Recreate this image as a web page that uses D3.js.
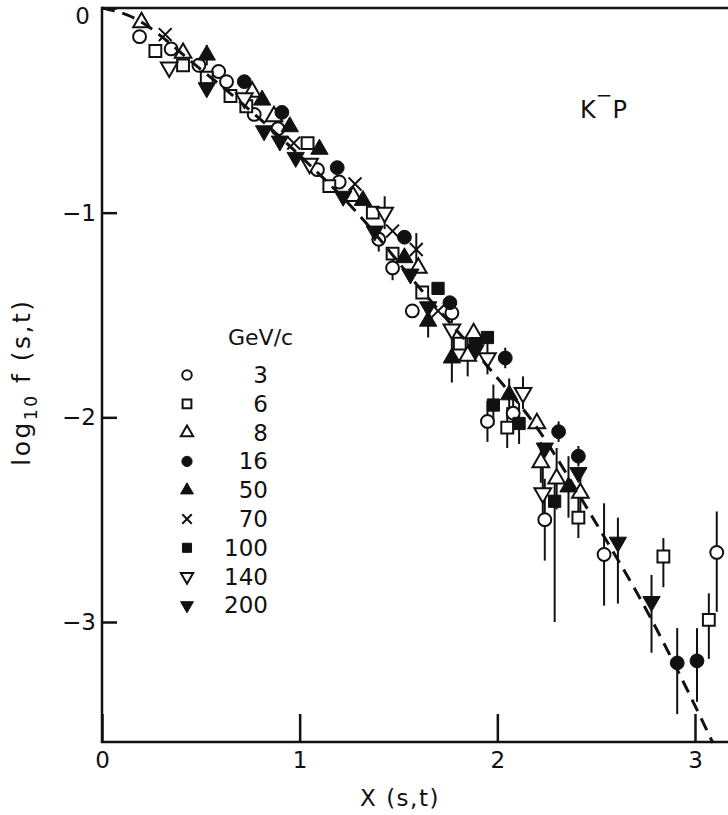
<!DOCTYPE html>
<html lang="en">
<head>
  <meta charset="UTF-8" />
  <title>K-P log10 f(s,t) vs X(s,t)</title>
  <script src="https://cdn.jsdelivr.net/npm/d3@7"></script>
  <style>
    body { margin: 0; background: #fff; }
    svg text { font-family: "DejaVu Sans", sans-serif; fill: #111; }
    .axis text { font-size: 23px; }
    .frame { stroke: #111; stroke-width: 2.5px; fill: none; }
    .errbar { stroke: #111; stroke-width: 2px; }
    .fit { fill: none; stroke: #111; stroke-width: 3px; stroke-dasharray: 13 8; }
  </style>
</head>
<body>
<svg width="728" height="815"></svg>
<script>
// beam momenta, GeV/c
const momenta = ["3", "6", "8", "16", "50", "70", "100", "140", "200"];

// points per momentum: [X(s,t), log10 f, err down, err up]
const p3 = [
  [0.19, -0.14, 0, 0], [0.35, -0.20, 0, 0], [0.49, -0.28, 0, 0], [0.59, -0.31, 0, 0],
  [0.63, -0.36, 0, 0], [0.77, -0.52, 0, 0], [0.89, -0.59, 0, 0], [1.09, -0.79, 0, 0],
  [1.20, -0.85, 0, 0], [1.40, -1.13, 0.06, 0.06], [1.47, -1.27, 0.06, 0.06],
  [1.57, -1.48, 0, 0], [1.77, -1.49, 0.05, 0.05], [1.95, -2.02, 0.10, 0.10],
  [2.08, -1.98, 0.10, 0.10], [2.24, -2.50, 0.20, 0.20], [2.54, -2.67, 0.25, 0.25],
  [3.11, -2.66, 0.29, 0.20]
];
const p6 = [
  [0.27, -0.21, 0, 0], [0.41, -0.28, 0, 0], [0.53, -0.34, 0, 0], [0.65, -0.43, 0, 0],
  [0.73, -0.48, 0, 0], [1.04, -0.66, 0, 0], [1.15, -0.87, 0, 0], [1.37, -1.00, 0, 0],
  [1.47, -1.20, 0, 0], [1.62, -1.39, 0, 0], [1.81, -1.64, 0, 0], [2.05, -2.05, 0.10, 0.10],
  [2.41, -2.49, 0.10, 0.10], [2.84, -2.68, 0.15, 0.09], [3.07, -2.99, 0.19, 0.13]
];
const p8 = [
  [0.20, -0.07, 0, 0], [0.41, -0.22, 0, 0], [0.76, -0.41, 0, 0], [0.87, -0.53, 0, 0],
  [1.27, -0.92, 0, 0], [1.60, -1.27, 0, 0], [1.88, -1.59, 0, 0], [1.85, -1.70, 0.10, 0.10],
  [2.20, -2.03, 0, 0], [2.22, -2.22, 0.10, 0.10], [2.30, -2.30, 0.15, 0.15],
  [2.42, -2.37, 0.10, 0.10]
];
const p16 = [
  [0.72, -0.36, 0, 0], [0.91, -0.51, 0, 0], [1.19, -0.78, 0, 0], [1.53, -1.12, 0, 0],
  [1.76, -1.44, 0, 0], [2.04, -1.71, 0.05, 0.05], [2.31, -2.07, 0.05, 0.05],
  [2.41, -2.19, 0.05, 0.05], [2.91, -3.20, 0.25, 0.17], [3.01, -3.19, 0.20, 0.16]
];
const p50 = [
  [0.53, -0.23, 0.05, 0.05], [0.81, -0.45, 0, 0], [0.95, -0.58, 0, 0], [1.10, -0.69, 0, 0],
  [1.32, -0.94, 0, 0], [1.53, -1.22, 0, 0], [1.65, -1.53, 0.08, 0.08],
  [1.77, -1.71, 0.12, 0.12], [2.06, -1.89, 0.08, 0.08], [2.36, -2.34, 0.15, 0.15]
];
const p70 = [
  [0.32, -0.13, 0, 0], [0.97, -0.66, 0, 0], [1.28, -0.86, 0, 0], [1.47, -1.09, 0, 0],
  [1.59, -1.18, 0.08, 0.08], [1.70, -1.48, 0, 0]
];
const p100 = [
  [1.70, -1.37, 0, 0], [1.89, -1.64, 0, 0], [1.95, -1.61, 0, 0], [1.98, -1.94, 0.10, 0.10],
  [2.11, -2.03, 0.10, 0.10], [2.29, -2.41, 0.59, 0.10]
];
const p140 = [
  [0.34, -0.29, 0, 0], [0.72, -0.44, 0, 0], [1.05, -0.76, 0, 0], [1.43, -1.00, 0.08, 0.08],
  [1.77, -1.57, 0, 0], [1.95, -1.71, 0.08, 0.08], [2.13, -1.88, 0.08, 0.08],
  [2.23, -2.37, 0.15, 0.15]
];
const p200 = [
  [0.53, -0.39, 0, 0], [0.82, -0.60, 0, 0], [0.90, -0.65, 0, 0], [0.98, -0.73, 0, 0],
  [1.22, -0.92, 0, 0], [1.38, -1.09, 0, 0], [1.56, -1.30, 0, 0], [1.65, -1.46, 0, 0],
  [1.89, -1.67, 0, 0], [2.24, -2.15, 0, 0], [2.41, -2.27, 0, 0],
  [2.61, -2.61, 0.30, 0.12], [2.78, -2.90, 0.25, 0.13]
];

// dashed curve
const fitCurve = [
  [0, 0], [0.13, -0.035], [0.5, -0.30], [1.0, -0.72], [1.29, -1.00], [1.6, -1.36],
  [1.95, -1.75], [2.2, -2.05], [2.47, -2.47], [2.77, -2.97], [2.96, -3.33], [3.09, -3.59]
];

const xTicks = [0, 1, 2, 3];
const yTicks = [0, -1, -2, -3];

const series = [p3, p6, p8, p16, p50, p70, p100, p140, p200];
// marker style per momentum
const shapes = [
  { type: d3.symbolCircle, filled: false, rot: 0, size: 130 },
  { type: d3.symbolSquare, filled: false, rot: 0, size: 140 },
  { type: d3.symbolTriangle, filled: false, rot: 0, size: 120 },
  { type: d3.symbolCircle, filled: true, rot: 0, size: 150 },
  { type: d3.symbolTriangle, filled: true, rot: 0, size: 130 },
  { type: d3.symbolTimes, filled: false, rot: 0, size: 110, stroke: true },
  { type: d3.symbolSquare, filled: true, rot: 0, size: 150 },
  { type: d3.symbolTriangle, filled: false, rot: 180, size: 120 },
  { type: d3.symbolTriangle, filled: true, rot: 180, size: 130 }
];

const svg = d3.select("svg");
const x = d3.scaleLinear().domain([0, 3]).range([102, 695]);
const y = d3.scaleLinear().domain([0, -3]).range([8, 622]);
const xMax = x.invert(728), yMin = y.invert(742);

// error bars first, markers over them
const g = svg.append("g");
series.forEach((pts, i) => {
  g.selectAll(null)
    .data(pts.filter(d => d[2] > 0 || d[3] > 0))
    .enter().append("line")
    .attr("class", "errbar")
    .attr("x1", d => x(d[0])).attr("x2", d => x(d[0]))
    .attr("y1", d => y(d[1] + d[3])).attr("y2", d => y(d[1] - d[2]));
});

svg.append("path")
  .datum(fitCurve)
  .attr("class", "fit")
  .attr("d", d3.line().x(d => x(d[0])).y(d => y(d[1])).curve(d3.curveMonotoneX));

function drawMarker(sel, s, size) {
  sel.attr("d", d3.symbol().type(s.type).size(size))
    .attr("fill", s.filled ? "#111" : (s.stroke ? "none" : "#fff"))
    .attr("stroke", "#111")
    .attr("stroke-width", s.filled ? 1 : 2);
}

series.forEach((pts, i) => {
  const s = shapes[i];
  g.selectAll(null)
    .data(pts)
    .enter().append("path")
    .attr("transform", d => `translate(${x(d[0])},${y(d[1])}) rotate(${s.rot})`)
    .call(drawMarker, s, s.size);
});

// axes (ticks point inward)
svg.append("g")
  .attr("class", "axis")
  .attr("transform", "translate(0,742)")
  .call(d3.axisBottom(x).tickValues(xTicks).tickSize(-28).tickSizeOuter(0).tickPadding(10).tickFormat(d3.format("d")))
  .call(a => a.select(".domain").remove())
  .call(a => a.selectAll("line").attr("stroke", "#111").attr("stroke-width", 2.5));

svg.append("g")
  .attr("class", "axis")
  .attr("transform", "translate(102,0)")
  .call(d3.axisLeft(y).tickValues(yTicks).tickSize(-15).tickSizeOuter(0).tickPadding(6)
    .tickFormat(d => d === 0 ? "0" : "\u2212" + Math.abs(d)))
  .call(a => a.select(".domain").remove())
  .call(a => a.selectAll("line").attr("stroke", "#111").attr("stroke-width", 2.5))
  .call(a => a.selectAll("text").filter(d => d === 0).attr("dy", "0.32em").attr("y", 8).attr("x", -12));

// frame: left, bottom, top
svg.append("path")
  .attr("class", "frame")
  .attr("d", `M${x(xMax)},${y(0)} H${x(0)} V${y(yMin)} H${x(xMax)}`);

// axis titles
svg.append("text")
  .attr("x", 400).attr("y", 806)
  .attr("text-anchor", "middle")
  .attr("font-size", 23)
  .attr("letter-spacing", 1.5)
  .text("X (s,t)");

const yl = svg.append("text")
  .attr("transform", "translate(30,382) rotate(-90)")
  .attr("text-anchor", "middle")
  .attr("font-size", 25)
  .attr("letter-spacing", 2.5);
yl.append("tspan").text("log");
yl.append("tspan").attr("font-size", 17).attr("dy", 7).text("10");
yl.append("tspan").attr("dy", -7).text(" f (s,t)");

// reaction label
const kp = svg.append("text")
  .attr("x", 580).attr("y", 118)
  .attr("font-size", 24);
kp.append("tspan").text("K");
kp.append("tspan").attr("font-size", 20).attr("dy", -16).text("\u2212");
kp.append("tspan").attr("dy", 16).text("P");

// legend
const lg = svg.append("g");
lg.append("text")
  .attr("x", 228).attr("y", 345)
  .attr("font-size", 22)
  .text("GeV/c");

const rows = lg.selectAll(null)
  .data(momenta)
  .enter().append("g")
  .attr("transform", (d, i) => `translate(0,${375 + i * 28.8})`);

rows.append("path")
  .each(function (d, i) {
    const s = shapes[i];
    d3.select(this)
      .attr("transform", `translate(187,0) rotate(${s.rot})`)
      .call(drawMarker, s, s.size * 0.55);
  });

rows.append("text")
  .attr("x", 268).attr("y", 8)
  .attr("text-anchor", "end")
  .attr("font-size", 23)
  .text(d => d);
</script>
</body>
</html>
